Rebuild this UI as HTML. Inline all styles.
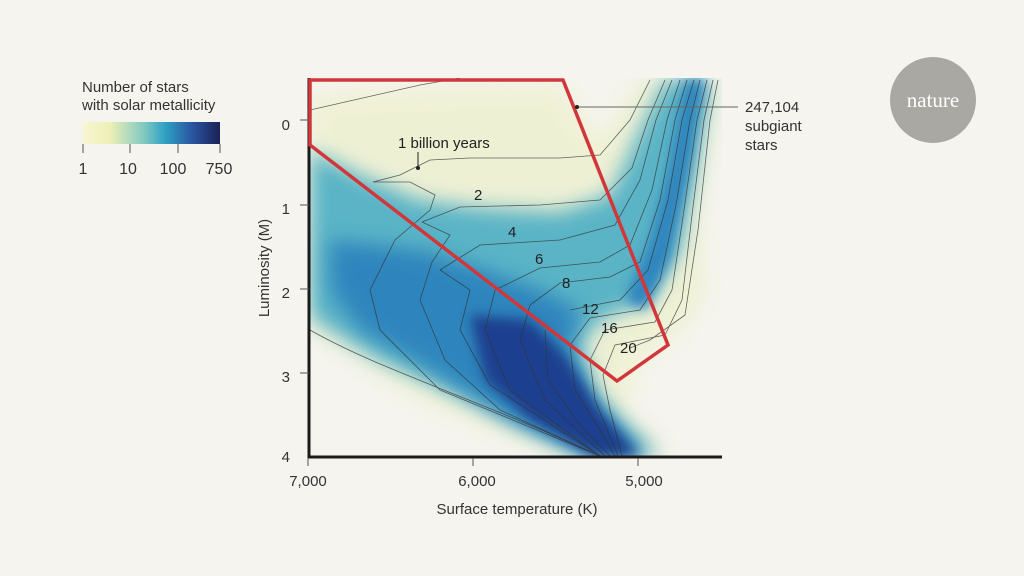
<!DOCTYPE html>
<html><head><meta charset="utf-8"><style>
html,body{margin:0;padding:0;background:#f5f4ee;}
svg{display:block;font-family:"Liberation Sans",sans-serif;}
</style></head><body>
<svg width="1024" height="576" viewBox="0 0 1024 576">
<defs>
<linearGradient id="cb" x1="0" x2="1" y1="0" y2="0">
<stop offset="0" stop-color="#f8f6d2"/><stop offset="0.2" stop-color="#eeefb6"/>
<stop offset="0.45" stop-color="#7ec8c2"/><stop offset="0.6" stop-color="#2ea0c4"/>
<stop offset="0.8" stop-color="#2a54a0"/><stop offset="1" stop-color="#1a2156"/>
</linearGradient>
<filter id="b6"><feGaussianBlur stdDeviation="6"/></filter>
<filter id="b10"><feGaussianBlur stdDeviation="10"/></filter>
<clipPath id="pc"><rect x="310" y="78" width="412" height="378"/></clipPath>
</defs>
<rect width="1024" height="576" fill="#f5f4ee"/>
<text x="82" y="92" font-size="15" fill="#333">Number of stars</text>
<text x="82" y="110" font-size="15" fill="#333">with solar metallicity</text>
<rect x="83" y="122" width="137" height="22" fill="url(#cb)"/>
<g stroke="#555" stroke-width="1"><line x1="83" y1="144" x2="83" y2="153"/><line x1="130" y1="144" x2="130" y2="153"/><line x1="178" y1="144" x2="178" y2="153"/><line x1="220" y1="144" x2="220" y2="153"/></g>
<g font-size="16" fill="#333" text-anchor="middle"><text x="83" y="174">1</text><text x="128" y="174">10</text><text x="173" y="174">100</text><text x="219" y="174">750</text></g>
<g clip-path="url(#pc)">
<path d="M310,95 L420,88 L560,85 L600,140 L640,80 L718,80 L700,220 L705,300 L670,340 L640,360 L625,410 L670,456 L560,456 L420,400 L310,330 Z" fill="#e9eebb" filter="url(#b10)" opacity="0.5"/>
<path d="M310,150 L360,175 L420,200 L480,208 L560,212 L610,195 L640,130 L665,80 L710,80 L695,170 L680,250 L650,300 L600,320 L580,345 L595,390 L625,425 L660,456 L590,456 L480,405 L380,360 L310,318 Z" fill="#5ab4c6" filter="url(#b10)"/>
<path d="M330,240 L420,250 L480,268 L540,290 L580,310 L570,350 L595,405 L645,456 L590,456 L510,420 L430,370 L360,330 L330,290 Z" fill="#2d85bd" filter="url(#b10)"/>
<path d="M625,300 L650,240 L668,170 L685,80 L705,80 L690,170 L670,260 L645,310 Z" fill="#2d85bd" filter="url(#b6)"/>
<path d="M470,315 L530,320 L565,355 L600,410 L640,456 L595,456 L530,420 L485,380 Z" fill="#1e3f8f" filter="url(#b6)"/>
<g fill="none" stroke="#333" stroke-width="0.8" opacity="0.75">
<path d="M310,110 L420,85 L460,78"/>
<path d="M310,330 C380,370 480,400 600,456"/>
<path d="M373,182 L410,182 L435,195 L430,210 L395,240 L370,290 L380,330 L440,390 L600,456"/>
<path d="M373,182 L400,175 L430,160 L470,158 L560,158 L600,155 L630,120 L650,80"/>
<path d="M422,222 L460,207 L540,205 L600,200 L632,168 L648,120 L665,80"/>
<path d="M422,222 L450,235 L432,262 L420,300 L445,360 L500,410 L600,456"/>
<path d="M440,270 L480,245 L560,240 L615,225 L640,180 L656,120 L672,80"/>
<path d="M440,270 L470,290 L460,330 L490,385 L600,456"/>
<path d="M495,290 L540,268 L600,262 L630,245 L652,190 L667,120 L680,80"/>
<path d="M495,290 L485,330 L510,390 L600,456"/>
<path d="M530,305 L560,283 L610,277 L640,262 L660,200 L675,120 L687,80"/>
<path d="M530,305 L520,340 L545,400 L605,456"/>
<path d="M570,310 L620,300 L648,270 L668,200 L682,120 L694,80"/>
<path d="M545,330 L548,380 L580,425 L610,456"/>
<path d="M570,345 L590,318 L640,310 L660,280 L676,205 L690,120 L700,80"/>
<path d="M570,345 L575,390 L600,430 L615,456"/>
<path d="M590,360 L605,330 L655,322 L672,290 L684,210 L697,120 L707,80"/>
<path d="M590,360 L595,400 L618,456"/>
<path d="M603,375 L615,345 L665,335 L682,300 L692,215 L704,120 L713,80"/>
<path d="M603,375 L610,410 L622,456"/>
<path d="M630,348 L650,340 L685,315 L698,230 L710,120 L718,80"/>
</g>
</g>
<line x1="309" y1="78" x2="309" y2="458" stroke="#1a1a1a" stroke-width="3"/>
<line x1="308" y1="457" x2="722" y2="457" stroke="#1a1a1a" stroke-width="3"/>
<g stroke="#555" stroke-width="1"><line x1="300" y1="120" x2="309" y2="120"/><line x1="300" y1="205" x2="309" y2="205"/><line x1="300" y1="289" x2="309" y2="289"/><line x1="300" y1="373" x2="309" y2="373"/>
<line x1="308" y1="458" x2="308" y2="466"/><line x1="473" y1="458" x2="473" y2="466"/><line x1="638" y1="458" x2="638" y2="466"/></g>
<g font-size="15" fill="#333" text-anchor="end"><text x="290" y="130">0</text><text x="290" y="214">1</text><text x="290" y="298">2</text><text x="290" y="382">3</text><text x="290" y="462">4</text></g>
<g font-size="15" fill="#333" text-anchor="middle"><text x="308" y="486">7,000</text><text x="477" y="486">6,000</text><text x="644" y="486">5,000</text></g>
<text x="517" y="514" font-size="15" fill="#333" text-anchor="middle">Surface temperature (K)</text>
<text transform="translate(269,268) rotate(-90)" font-size="15" fill="#333" text-anchor="middle">Luminosity (M)</text>
<path d="M310,80 L563,80 L668,345 L617,381 L310,145 Z" fill="none" stroke="#d1373a" stroke-width="3.5"/>
<g font-size="15" fill="#222"><text x="398" y="148">1 billion years</text>
<text x="474" y="200">2</text><text x="508" y="237">4</text><text x="535" y="264">6</text><text x="562" y="288">8</text>
<text x="582" y="314">12</text><text x="601" y="333">16</text><text x="620" y="353">20</text></g>
<line x1="418" y1="152" x2="418" y2="168" stroke="#222"/><circle cx="418" cy="168" r="2" fill="#222"/>
<line x1="577" y1="107" x2="738" y2="107" stroke="#666"/><circle cx="577" cy="107" r="2" fill="#222"/>
<g font-size="15" fill="#333"><text x="745" y="112">247,104</text><text x="745" y="131">subgiant</text><text x="745" y="150">stars</text></g>
<circle cx="933" cy="100" r="43" fill="#a9a8a3"/>
<text x="933" y="107" font-family="Liberation Serif,serif" font-size="21" fill="#fff" text-anchor="middle">nature</text>
</svg>
</body></html>
